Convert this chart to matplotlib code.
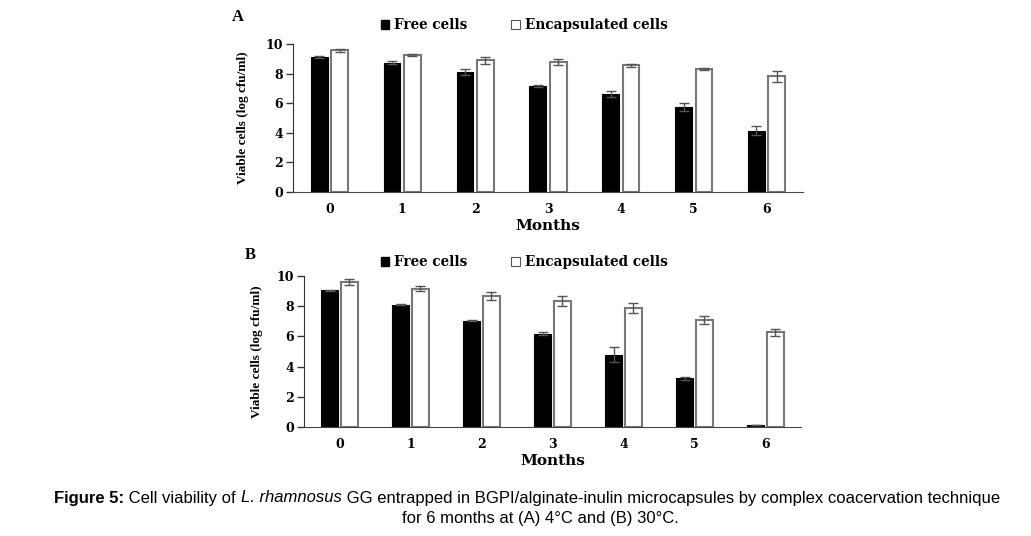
import numpy as np
import matplotlib
matplotlib.use('Agg')
import matplotlib.pyplot as plt
from matplotlib import font_manager
from matplotlib.patches import Patch

# data
months = ['0', '1', '2', '3', '4', '5', '6']
free_a = [9.12, 8.72, 8.08, 7.18, 6.62, 5.74, 4.14]
free_a_err = [0.05, 0.10, 0.20, 0.08, 0.22, 0.26, 0.30]
enc_a = [9.58, 9.26, 8.90, 8.77, 8.57, 8.33, 7.81]
enc_a_err = [0.10, 0.08, 0.25, 0.20, 0.10, 0.07, 0.35]

free_b = [9.05, 8.10, 7.04, 6.18, 4.80, 3.22, 0.10]
free_b_err = [0.03, 0.05, 0.03, 0.08, 0.50, 0.10, 0.0]
enc_b = [9.63, 9.16, 8.68, 8.32, 7.87, 7.09, 6.26]
enc_b_err = [0.20, 0.18, 0.25, 0.33, 0.32, 0.25, 0.22]

names = {f.name for f in font_manager.fontManager.ttflist}
narrow = 'Liberation Sans Narrow' if 'Liberation Sans Narrow' in names else 'Liberation Sans'
wide_serif = 'DejaVu Serif'
serif = 'Liberation Serif'

fig = plt.figure(figsize=(10.31, 5.36), dpi=100)
W, H = 1031, 536


def panel(rect, free, free_err, enc, enc_err, letter, letter_xy, leg_y, ylab_x):
    l, r, top, bot = rect
    ax = fig.add_axes([l / W, 1 - bot / H, (r - l) / W, (bot - top) / H])
    x = np.arange(len(months))
    ax.bar(x - 0.14, free, 0.23, color='black', edgecolor='black', linewidth=0.8,
           yerr=free_err, error_kw=dict(ecolor='#555555', elinewidth=1, capsize=3.5, capthick=1))
    ax.bar(x + 0.14, enc, 0.23, color='white', edgecolor='#777777', linewidth=1.5,
           yerr=enc_err, error_kw=dict(ecolor='#555555', elinewidth=1, capsize=3.5, capthick=1))
    ax.set_xlim(-0.5, 6.5)
    ax.set_ylim(0, 10)
    ax.set_yticks([0, 2, 4, 6, 8, 10])
    ax.set_xticks(x)
    ax.set_xticklabels(months)
    for s in ('top', 'right'):
        ax.spines[s].set_visible(False)
    ax.spines['left'].set_color('#333333')
    ax.spines['bottom'].set_color('#444444')
    ax.tick_params(axis='y', length=5, width=1, pad=2, color='#333333')
    ax.tick_params(axis='x', length=0, pad=8)
    for t in ax.get_xticklabels() + ax.get_yticklabels():
        t.set_family(wide_serif)
        t.set_weight('bold')
        t.set_fontsize(9)
    ax.set_xlabel('Months', family=wide_serif, weight='bold', fontsize=11, labelpad=2)
    fig.text(ylab_x / W, 1 - (top + bot) / 2 / H, 'Viable cells (log cfu/ml)', rotation=90,
             ha='center', va='center', family=serif, weight='bold', fontsize=9.5)
    fig.text(letter_xy[0] / W, 1 - letter_xy[1] / H, letter, family=serif, weight='bold',
             fontsize=12, ha='center', va='center')
    handles = [Patch(facecolor='black', edgecolor='black'),
               Patch(facecolor='white', edgecolor='#555555', linewidth=0.8)]
    fig.legend(handles, ['Free cells', 'Encapsulated cells'], loc='center',
               bbox_to_anchor=(524 / W, 1 - leg_y / H), ncol=2, frameon=False,
               handlelength=0.65, handleheight=0.65, handletextpad=0.35, columnspacing=3.2,
               prop=dict(family=wide_serif, weight='bold', size=9.8))
    return ax


panel((293, 803, 44, 192), free_a, free_a_err, enc_a, enc_a_err, 'A', (238, 17), 25, 243)
panel((304, 801, 276, 427), free_b, free_b_err, enc_b, enc_b_err, 'B', (250, 255), 262, 257)

# caption with mixed styles
fig.canvas.draw()
rend = fig.canvas.get_renderer()
cap_size = 12
line1 = [('Figure 5:', 'bold', 'normal'), (' Cell viability of ', 'normal', 'normal'),
         ('L. rhamnosus', 'normal', 'italic'),
         (' GG entrapped in BGPI/alginate-inulin microcapsules by complex coacervation technique',
          'normal', 'normal')]
pieces = []
for txt, wt, st in line1:
    t = fig.text(0, 1 - 498 / H, txt, family=narrow, weight=wt, style=st, fontsize=cap_size,
                 ha='left', va='center')
    pieces.append((t, t.get_window_extent(rend).width))
total = sum(w for _, w in pieces)
x0 = 527 - total / 2
for t, w in pieces:
    t.set_x(x0 / W)
    x0 += w
fig.text(540 / W, 1 - 518 / H, 'for 6 months at (A) 4°C and (B) 30°C.', family=narrow,
         fontsize=cap_size, ha='center', va='center')

fig.savefig('out.png', dpi=100)
